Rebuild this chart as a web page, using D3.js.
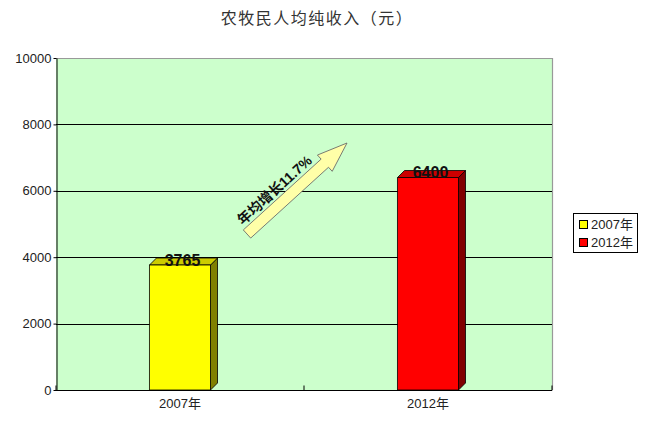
<!DOCTYPE html>
<html><head><meta charset="utf-8">
<script src="https://cdn.jsdelivr.net/npm/d3@7/dist/d3.min.js"></script>
<style>body{margin:0;background:#fff}svg{display:block}</style>
</head><body>
<script>
const title = "农牧民人均纯收入（元）";
const categories = ["2007年", "2012年"];
const values = [3765, 6400];
const seriesNames = ["2007年", "2012年"];
const yTicks = [0, 2000, 4000, 6000, 8000, 10000];
const annotation = "年均增长11.7%";

const W = 645, H = 426;
const colors = [{front:"#FFFF00", top:"#CCCC00", side:"#808000"}, {front:"#FF0000", top:"#CC0000", side:"#800000"}];
const font = "'Liberation Sans','Noto Sans CJK SC',sans-serif";
const svg = d3.select("body").append("svg").attr("width", W).attr("height", H);

const L = 56, R = 552, T = 58, B = 390;
const y = d3.scaleLinear().domain([0, 10000]).range([B, T]);
const x = d3.scaleBand().domain(categories).range([L, R]);

svg.append("rect").attr("x", L).attr("y", T).attr("width", R - L).attr("height", B - T).attr("fill", "#CCFFCC");
svg.append("path").attr("d", `M${L},${T+0.5}H${R+0.5}V${B}`).attr("fill", "none").attr("stroke", "#999").attr("stroke-width", 1.2);
svg.selectAll(".grid").data(yTicks.filter(d => d > 0 && d < 10000)).enter().append("line")
  .attr("x1", L).attr("x2", R).attr("y1", d => Math.round(y(d)) + 0.5).attr("y2", d => Math.round(y(d)) + 0.5)
  .attr("stroke", "#000").attr("stroke-width", 1);

const yAxis = d3.axisLeft(y).tickValues(yTicks).tickFormat(d3.format("d")).tickSize(3).tickSizeOuter(0).tickPadding(2);
const gy = svg.append("g").attr("transform", `translate(${L + 0.5},0)`).call(yAxis);
gy.selectAll("text").attr("font-family", font).attr("font-size", 13).attr("fill", "#222");
gy.select(".domain").attr("stroke", "#000");

const gx = svg.append("g").attr("transform", `translate(0,${B + 0.5})`);
gx.append("line").attr("x1", L).attr("x2", R).attr("stroke", "#000");
[L, x(categories[1]), R].forEach(p => gx.append("line").attr("x1", p).attr("x2", p).attr("y1", 0).attr("y2", -5).attr("stroke", "#000"));
gx.selectAll(".lbl").data(categories).enter().append("text")
  .attr("x", d => x(d) + x.bandwidth() / 2).attr("y", 17).attr("text-anchor", "middle")
  .attr("font-family", font).attr("font-size", 13).attr("fill", "#222").text(d => d);

const bw = x.bandwidth() * 0.246, dep = 7;
categories.forEach((c, i) => {
  const x0 = x(c) + x.bandwidth() / 2 - bw / 2, x1 = x0 + bw, yt = y(values[i]);
  const g = svg.append("g").attr("stroke", "#000").attr("stroke-width", 0.8).attr("stroke-linejoin", "round");
  g.append("path").attr("d", `M${x1},${B}L${x1 + dep},${B - dep}V${yt - dep}L${x1},${yt}Z`).attr("fill", colors[i].side);
  g.append("path").attr("d", `M${x0},${yt}L${x0 + dep},${yt - dep}H${x1 + dep}L${x1},${yt}Z`).attr("fill", colors[i].top);
  g.append("rect").attr("x", x0).attr("y", yt).attr("width", bw).attr("height", B - yt).attr("fill", colors[i].front);
  svg.append("text").attr("x", x0 + bw / 2 + dep / 2 - 1).attr("y", yt + 0.5).attr("text-anchor", "middle")
    .attr("font-family", font).attr("font-size", 16).attr("font-weight", "bold").attr("fill", "#111").text(values[i]);
});

svg.append("text").attr("x", 317).attr("y", 24).attr("text-anchor", "middle")
  .attr("font-family", "'Noto Sans CJK SC',sans-serif").attr("font-size", 16).attr("letter-spacing", 1.5).attr("fill", "#333").text(title);

const ax0 = 247, ay0 = 234, ax1 = 347, ay1 = 143;
const len = Math.hypot(ax1 - ax0, ay1 - ay0), ang = Math.atan2(ay1 - ay0, ax1 - ax0) * 180 / Math.PI;
const sw = 5.5, hw = 11, hl = 30;
const ag = svg.append("g").attr("transform", `translate(${ax0},${ay0}) rotate(${ang})`);
ag.append("path").attr("d", `M0,${-sw}H${len - hl}V${-hw}L${len},0L${len - hl},${hw}V${sw}H0Z`)
  .attr("fill", "#FFFFA8").attr("stroke", "#666").attr("stroke-width", 0.8);
ag.append("text").attr("x", 50).attr("y", -9).attr("text-anchor", "middle")
  .attr("font-family", font).attr("font-size", 14).attr("font-weight", "bold").attr("fill", "#111").text(annotation);

const lg = svg.append("g");
lg.append("rect").attr("x", 573.5).attr("y", 213.5).attr("width", 64).attr("height", 39).attr("fill", "#fff").attr("stroke", "#000");
seriesNames.forEach((s, i) => {
  lg.append("rect").attr("x", 579.5).attr("y", 220.5 + i * 18).attr("width", 8).attr("height", 8).attr("fill", colors[i].front).attr("stroke", "#000");
  lg.append("text").attr("x", 591).attr("y", 229 + i * 18).attr("font-family", font).attr("font-size", 13).attr("fill", "#222").text(s);
});
</script>
</body></html>
